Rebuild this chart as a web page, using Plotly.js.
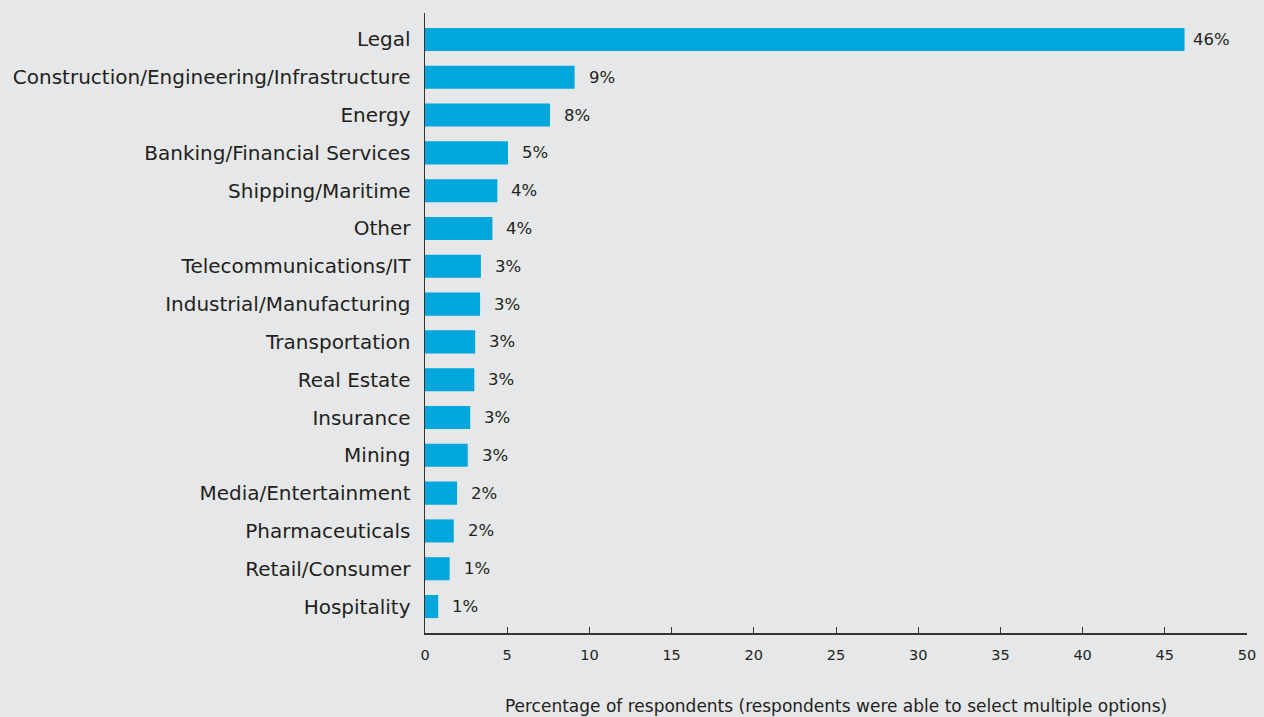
<!DOCTYPE html>
<html><head><meta charset="utf-8">
<script src="https://cdn.plot.ly/plotly-3.0.1.min.js"></script>
<style>html,body{margin:0;padding:0;background:#e6e7e8;}</style>
</head><body>
<div id="chart" style="width:1264px;height:717px;"></div>
<script>
const categories = ["Legal","Construction/Engineering/Infrastructure","Energy","Banking/Financial Services","Shipping/Maritime","Other","Telecommunications/IT","Industrial/Manufacturing","Transportation","Real Estate","Insurance","Mining","Media/Entertainment","Pharmaceuticals","Retail/Consumer","Hospitality"];
const values = [46.2, 9.1, 7.6, 5.05, 4.4, 4.1, 3.4, 3.35, 3.05, 3.0, 2.75, 2.6, 1.95, 1.75, 1.5, 0.8];
const valueLabels = ["46%","9%","8%","5%","4%","4%","3%","3%","3%","3%","3%","3%","2%","2%","1%","1%"];
const xTicks = [0,5,10,15,20,25,30,35,40,45,50];

const font = "DejaVu Sans, Liberation Sans, Arial, sans-serif";
const dark = "#231f20";

const annotations = categories.map((c,i)=>({
  x: values[i], y: c, xref:"x", yref:"y", text: valueLabels[i],
  showarrow:false, xanchor:"left", yanchor:"middle", xshift:i===0?6:12,
  font:{family:font, size:16.5, color:dark}
}));

Plotly.newPlot("chart",[{
  type:"bar", orientation:"h", x: values, y: categories,
  marker:{color:"#00a6dc"}, hoverinfo:"skip"
}],{
  width:1264, height:717,
  paper_bgcolor:"#e6e7e8", plot_bgcolor:"#e6e7e8",
  margin:{l:425, r:17, t:13, b:84},
  bargap:0.39,
  showlegend:false,
  font:{family:font, color:dark},
  xaxis:{range:[0,50], tickvals:xTicks, ticktext:xTicks.map(String),
    showgrid:false, zeroline:false, showline:true, linecolor:"#333", linewidth:1.5,
    ticks:"inside", ticklen:6, tickcolor:"#333", tickwidth:1,
    tickfont:{family:font, size:14.5, color:dark}, ticklabelstandoff:8,
    title:{text:"Percentage of respondents (respondents were able to select multiple options)",
      font:{family:font, size:17, color:dark}, standoff:38}},
  yaxis:{type:"category", range:[15.7,-0.7], showgrid:false, zeroline:false,
    showline:true, linecolor:"#333", linewidth:1.5, ticks:"", ticklabelstandoff:9,
    tickfont:{family:font, size:20, color:dark}},
  annotations: annotations
},{displayModeBar:false, staticPlot:true});
</script>
</body></html>
